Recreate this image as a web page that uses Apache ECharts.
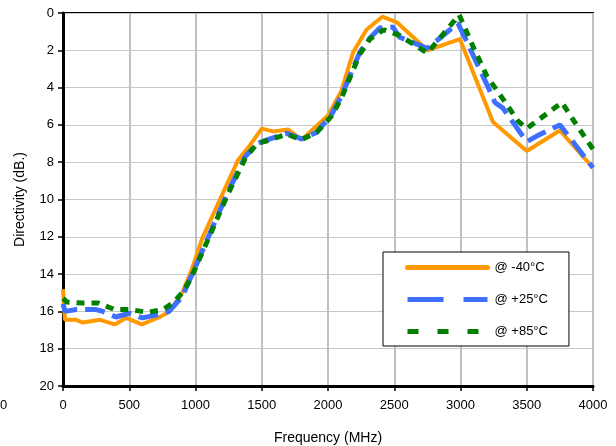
<!DOCTYPE html>
<html>
<head>
<meta charset="utf-8">
<script src="https://cdn.jsdelivr.net/npm/echarts@6/dist/echarts.min.js"></script>
<style>html,body{margin:0;padding:0;background:#fff}#c{width:616px;height:446px}</style>
</head>
<body>
<div id="c"></div>
<script>
var seriesNames = ['@ -40°C', '@ +25°C', '@ +85°C'];
var xTicks = [0, 500, 1000, 1500, 2000, 2500, 3000, 3500, 4000];
var yTicks = [0, 2, 4, 6, 8, 10, 12, 14, 16, 18, 20];

var freqCold = [0, 15, 100, 150, 280, 390, 475, 595, 730, 805, 900, 970, 1050, 1210, 1320, 1410, 1500, 1585, 1700, 1800, 2000, 2100, 2190, 2290, 2410, 2520, 2750, 2995, 3245, 3500, 3750, 4000];
var dirCold  = [14.8, 16.45, 16.45, 16.6, 16.45, 16.7, 16.35, 16.7, 16.3, 16.0, 15.0, 13.8, 12.1, 9.6, 7.9, 7.1, 6.2, 6.35, 6.25, 6.8, 5.5, 4.2, 2.1, 0.9, 0.2, 0.5, 2.0, 1.4, 5.85, 7.4, 6.3, 8.3];

var freqRoom = [0, 15, 100, 250, 300, 400, 500, 600, 700, 800, 900, 1000, 1110, 1245, 1375, 1465, 1540, 1690, 1800, 1915, 2030, 2105, 2240, 2315, 2390, 2490, 2540, 2750, 2980, 3035, 3210, 3260, 3320, 3500, 3575, 3750, 4000];
var dirRoom  = [15.6, 16.0, 15.9, 15.9, 16.0, 16.3, 16.1, 16.35, 16.2, 16.0, 15.2, 13.6, 11.8, 9.6, 7.7, 7.0, 6.8, 6.45, 6.75, 6.4, 5.4, 4.4, 2.1, 1.35, 0.8, 0.75, 1.3, 1.9, 0.55, 1.35, 4.0, 4.8, 5.1, 6.9, 6.6, 6.0, 8.3];

var freqHot = [0, 30, 145, 265, 390, 505, 640, 755, 830, 900, 960, 1110, 1245, 1375, 1465, 1540, 1690, 1800, 1915, 2030, 2105, 2240, 2315, 2420, 2540, 2750, 2990, 3095, 3200, 3300, 3435, 3500, 3575, 3765, 3885, 4000];
var dirHot  = [15.3, 15.5, 15.55, 15.55, 15.9, 15.9, 16.05, 15.9, 15.55, 15.0, 14.3, 11.9, 9.7, 7.8, 7.0, 6.85, 6.5, 6.8, 6.4, 5.5, 4.5, 2.2, 1.4, 0.9, 1.2, 2.15, 0.1, 1.8, 3.4, 4.4, 5.8, 6.2, 5.8, 4.8, 6.1, 7.3];

function zip(xs, ys) { return xs.map(function (x, i) { return [x, ys[i]]; }); }

var FONT = 'Liberation Sans, Arial, sans-serif';
var C_COLD = '#FF9900', C_ROOM = '#3F6FFF', C_HOT = '#007F00';
var chart = echarts.init(document.getElementById('c'), null, {renderer: 'canvas'});
chart.setOption({
  animation: false,
  backgroundColor: '#fff',
  grid: {left: 63, right: 23, top: 13, bottom: 60, containLabel: false, outerBoundsMode: 'none',
         show: true, borderColor: '#000', borderWidth: 2, backgroundColor: 'transparent'},
  xAxis: {
    type: 'value', min: xTicks[0], max: xTicks[xTicks.length - 1], interval: 500,
    name: 'Frequency (MHz)', nameLocation: 'middle', nameGap: 45,
    nameTextStyle: {fontFamily: FONT, fontSize: 14, color: '#000'},
    axisLine: {show: true, onZero: false, lineStyle: {color: '#000', width: 3}},
    axisTick: {show: true, length: 5, lineStyle: {color: '#000', width: 1.5}},
    axisLabel: {fontFamily: FONT, fontSize: 13, color: '#000', margin: 13, formatter: function (v) { return String(v); }},
    splitLine: {show: true, lineStyle: {color: '#c0c0c0', width: 2}}
  },
  yAxis: {
    type: 'value', min: yTicks[0], max: yTicks[yTicks.length - 1], interval: 2, inverse: true,
    name: 'Directivity (dB.)', nameLocation: 'middle', nameGap: 36,
    nameTextStyle: {fontFamily: FONT, fontSize: 14, color: '#000'},
    axisLine: {show: true, onZero: false, lineStyle: {color: '#000', width: 3}},
    axisTick: {show: true, length: 5, lineStyle: {color: '#000', width: 1.5}},
    axisLabel: {fontFamily: FONT, fontSize: 13, color: '#000', margin: 9},
    splitLine: {show: true, lineStyle: {color: '#c8c8c8', width: 1}}
  },
  legend: {
    orient: 'vertical', left: 383, top: 252,
    padding: [9, 21, 8, 22], itemGap: 19, itemWidth: 80, itemHeight: 14,
    backgroundColor: '#fff', borderColor: '#000', borderWidth: 1,
    itemStyle: {opacity: 0},
    textStyle: {fontFamily: FONT, fontSize: 13, color: '#000', padding: [0, 0, 0, 2]},
    data: [
      {name: seriesNames[0], lineStyle: {color: C_COLD, width: 5, type: 'solid', cap: 'round'}},
      {name: seriesNames[1], lineStyle: {color: C_ROOM, width: 5, type: [36, 20]}},
      {name: seriesNames[2], lineStyle: {color: C_HOT, width: 5, type: [11, 19]}}
    ]
  },
  graphic: [{type: 'text', left: 0, top: 399, style: {text: '0', font: '13px ' + FONT, fill: '#000'}}],
  series: [
    {name: seriesNames[0], type: 'line', symbol: 'none', data: zip(freqCold, dirCold), z: 3,
     lineStyle: {color: C_COLD, width: 4, type: 'solid'}, itemStyle: {color: C_COLD}},
    {name: seriesNames[1], type: 'line', symbol: 'none', data: zip(freqRoom, dirRoom), z: 4,
     lineStyle: {color: C_ROOM, width: 5, type: [20, 8]}, itemStyle: {color: C_ROOM}},
    {name: seriesNames[2], type: 'line', symbol: 'none', data: zip(freqHot, dirHot), z: 5,
     lineStyle: {color: C_HOT, width: 5, type: [8, 7]}, itemStyle: {color: C_HOT}}
  ]
});
</script>
</body>
</html>
